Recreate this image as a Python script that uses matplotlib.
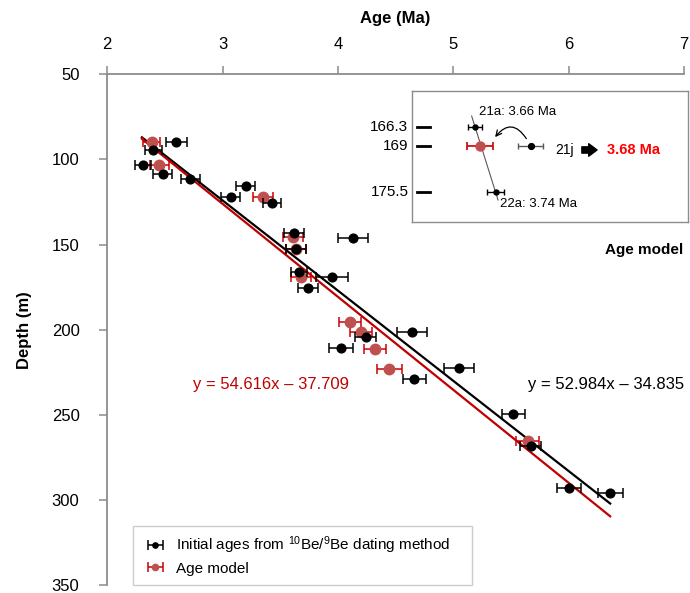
import numpy as np
import matplotlib
matplotlib.use('Agg')
import matplotlib.pyplot as plt
from matplotlib.transforms import blended_transform_factory

plt.rcParams['font.family'] = ['Liberation Sans', 'DejaVu Sans']
plt.rcParams['mathtext.fontset'] = 'custom'
plt.rcParams['mathtext.rm'] = 'Liberation Sans'
plt.rcParams['mathtext.it'] = 'Liberation Sans:italic'
plt.rcParams['mathtext.bf'] = 'Liberation Sans:bold'

# initial 10Be/9Be ages (black)
black_age = [2.60, 2.40, 2.31, 2.48, 2.72, 3.20, 3.07, 3.43, 3.62, 4.13, 3.64, 3.66,
             3.95, 3.74, 4.24, 4.03, 4.64, 4.66, 5.05, 5.52, 5.67, 6.00, 6.36]
black_depth = [89.6, 94.7, 103.4, 108.3, 111.6, 115.9, 121.9, 125.8, 143.2, 146.0, 152.4, 166.3,
               169.0, 175.5, 204.4, 210.7, 201.5, 229.1, 222.7, 249.5, 268.5, 292.8, 296.1]
black_err = [0.087, 0.072, 0.072, 0.08, 0.08, 0.08, 0.08, 0.08, 0.087, 0.13, 0.087, 0.07,
             0.14, 0.09, 0.094, 0.104, 0.13, 0.10, 0.127, 0.098, 0.094, 0.104, 0.108]

# age model (red)
red_age = [2.385, 2.451, 3.353, 3.613, 3.64, 3.68, 4.105, 4.198, 4.322, 4.446, 5.646]
red_depth = [89.6, 103.4, 122.3, 145.6, 152.5, 169.0, 195.7, 201.5, 211.2, 222.9, 265.6]
red_err = [0.075, 0.08, 0.087, 0.087, 0.087, 0.087, 0.097, 0.094, 0.094, 0.11, 0.10]

# trendlines: depth = slope * age + intercept
black_fit = (52.984, -34.835)
red_fit = (54.616, -37.709)
fit_range = [2.30, 6.36]

# inset: 21a, model, 22a, 21j
inset_labels = ['166.3', '169', '175.5']
inset_ticks = [166.3, 169.0, 175.5]
inset_age = [3.66, 3.68, 3.74, 3.875]
inset_depth = [166.3, 169.0, 175.5, 169.0]
inset_err = [0.026, 0.05, 0.032, 0.047]

fig = plt.figure(figsize=(6.9, 5.93), dpi=100)
ax = fig.add_axes([0.1555, 0.0135, 0.8358, 0.8612])

gray = '#8c8c8c'
xs = np.array(fit_range)
ax.plot(xs, black_fit[0] * xs + black_fit[1], color='black', lw=1.6, zorder=2)
ax.plot(xs, red_fit[0] * xs + red_fit[1], color='#C00000', lw=1.6, zorder=2)

eb_red = ax.errorbar(red_age, red_depth, xerr=red_err, fmt='o', color='#C00000',
                     mfc='#C0504D', mec='#C0504D', ms=7.5, ecolor='#CC0000',
                     elinewidth=1.1, capsize=3.5, capthick=1.1, zorder=3)
eb_black = ax.errorbar(black_age, black_depth, xerr=black_err, fmt='o', color='black',
                       ms=6.3, elinewidth=1.1, capsize=3.5, capthick=1.1, zorder=4)

ax.text(4.099, 232, 'y = 54.616x \u2013 37.709', color='#C00000', fontsize=12,
        ha='right', va='center')
ax.text(5.651, 232, 'y = 52.984x \u2013 34.835', color='black', fontsize=12,
        ha='left', va='center')

ax.set_xlim(2, 7)
ax.set_ylim(350, 50)
ax.set_xticks([2, 3, 4, 5, 6, 7])
ax.set_yticks([50, 100, 150, 200, 250, 300, 350])
ax.xaxis.tick_top()
ax.xaxis.set_label_position('top')
ax.set_xlabel('Age (Ma)', fontsize=12, fontweight='bold', labelpad=10)
ax.set_ylabel('Depth (m)', fontsize=12, fontweight='bold', labelpad=14)
ax.tick_params(axis='x', direction='out', length=6, width=1.1, color=gray,
               labelsize=12, pad=10)
ax.tick_params(axis='y', direction='out', length=6, width=1.1, color=gray,
               labelsize=12, pad=14)
for s in ['right', 'bottom']:
    ax.spines[s].set_visible(False)
for s in ['top', 'left']:
    ax.spines[s].set_color(gray)
    ax.spines[s].set_linewidth(1.3)

leg = ax.legend([eb_black, eb_red],
                ['Initial ages from $^{10}$Be/$^{9}$Be dating method', 'Age model'],
                loc='lower left', bbox_to_anchor=(0.045, 0.0, 0.588, 0.118),
                mode='expand', borderaxespad=0, fancybox=False, edgecolor='#bfbfbf',
                fontsize=11, handlelength=1.7, handletextpad=0.5, markerscale=0.6,
                borderpad=0.6, labelspacing=0.35)
leg.get_frame().set_linewidth(1.0)

# inset
ai = fig.add_axes([0.5967, 0.6251, 0.4009, 0.2214])
ai.set_xlim(3.4154, 4.4843)
ai.set_ylim(179.69, 161.33)
ai.set_xticks([])
ai.set_yticks([])
for s in ai.spines.values():
    s.set_color(gray)
    s.set_linewidth(1.0)

tr = blended_transform_factory(ai.transAxes, ai.transData)
for d, lab in zip(inset_ticks, inset_labels):
    ai.plot([0.018, 0.066], [d, d], transform=tr, color='black', lw=2)
    ai.text(-0.012, d, lab, transform=tr, ha='right', va='center', fontsize=11,
            clip_on=False)

# line through 21a and 22a
ai.plot([3.647, 3.749], [164.83, 176.57], color='#595959', lw=0.8, zorder=1)

ai.errorbar(inset_age[0], inset_depth[0], xerr=inset_err[0], fmt='o', color='black',
            ms=3.6, elinewidth=1, capsize=2.5, capthick=1, zorder=3)
ai.errorbar(inset_age[2], inset_depth[2], xerr=inset_err[2], fmt='o', color='black',
            ms=3.6, elinewidth=1, capsize=2.5, capthick=1, zorder=3)
ai.errorbar(inset_age[3], inset_depth[3], xerr=inset_err[3], fmt='o', mfc='black',
            mec='black', ecolor='#595959', ms=4.2, elinewidth=1, capsize=2.5,
            capthick=1, zorder=3)
ai.errorbar(inset_age[1], inset_depth[1], xerr=inset_err[1], fmt='o', mfc='#C0504D',
            mec='#C0504D', ecolor='#CC0000', ms=6.5, elinewidth=1.2, capsize=3,
            capthick=1.2, zorder=3)

ai.annotate('', xy=(3.731, 168.08), xytext=(3.864, 168.32),
            arrowprops=dict(arrowstyle='->', color='black', lw=0.9,
                            connectionstyle='arc3,rad=0.75'))
ai.annotate('', xy=(0.68, 0.551), xytext=(0.605, 0.551), xycoords='axes fraction',
            textcoords='axes fraction',
            arrowprops=dict(arrowstyle='simple,head_length=0.6,head_width=0.9,tail_width=0.45',
                            color='black'))

ai.text(0.243, 0.840, '21a: 3.66 Ma', transform=ai.transAxes, fontsize=9.5,
        ha='left', va='center')
ai.text(0.320, 0.139, '22a: 3.74 Ma', transform=ai.transAxes, fontsize=9.5,
        ha='left', va='center')
ai.text(0.518, 0.551, '21j', transform=ai.transAxes, fontsize=10,
        ha='left', va='center')
ai.text(0.705, 0.551, '3.68 Ma', transform=ai.transAxes, fontsize=10.5,
        fontweight='bold', color='#FF0000', ha='left', va='center')

fig.text(0.99, 0.578, 'Age model', ha='right', va='center', fontsize=11,
         fontweight='bold')

fig.savefig('out.png', dpi=100)
